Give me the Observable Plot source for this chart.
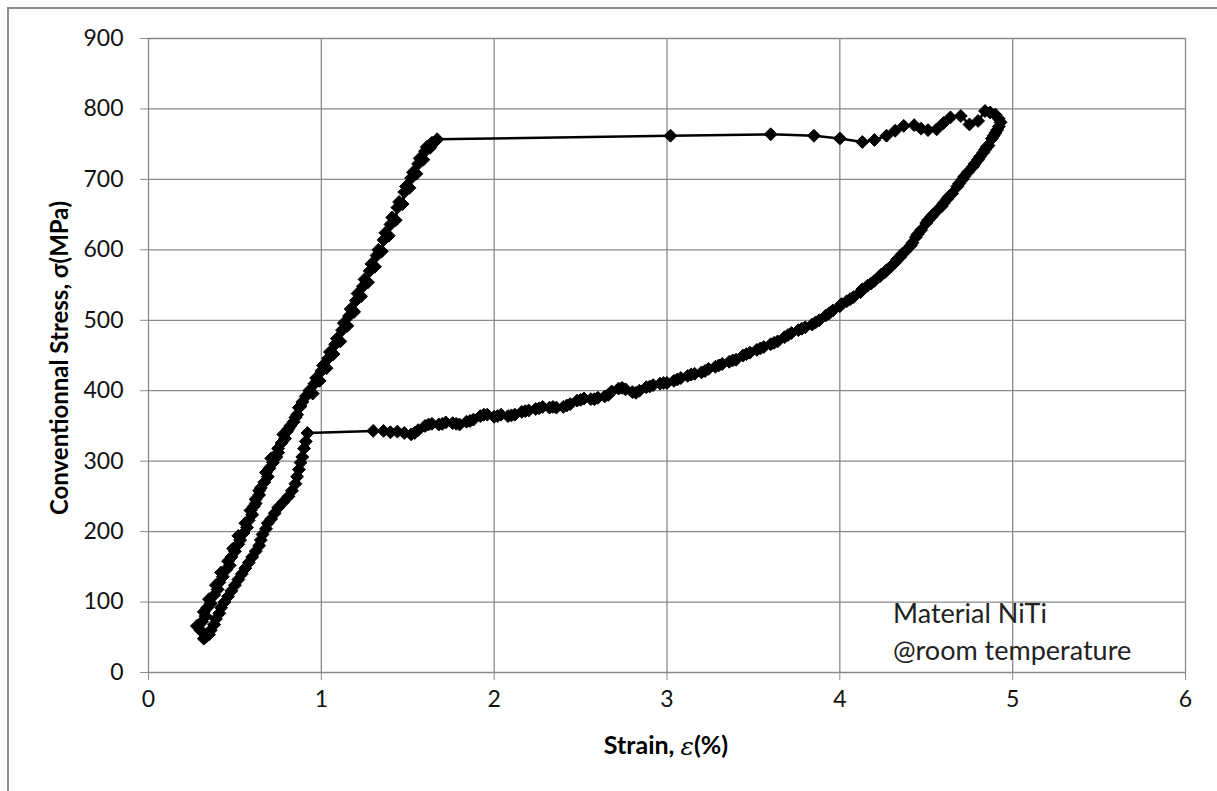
<!DOCTYPE html>
<html><head><meta charset="utf-8">
<script src="https://cdn.jsdelivr.net/npm/d3@7"></script>
<script src="https://cdn.jsdelivr.net/npm/@observablehq/plot@0.6"></script>
<style>
body{margin:0;background:#fff;overflow:hidden;}
#frame{position:absolute;left:7px;top:7px;width:1300px;height:900px;border-left:2px solid #8c8c8c;border-top:2px solid #8c8c8c;}
#chart{position:absolute;left:0;top:0;}
</style></head><body>
<div id="frame"></div>
<div id="chart"></div>
<script>
const xTicks = [0,1,2,3,4,5,6];
const yTicks = [0,100,200,300,400,500,600,700,800,900];
const noteLines = ["Material NiTi","@room temperature"];

// loading branch (elastic)
const loadStrain = [0.28,0.30,0.31,0.33,0.32,0.34,0.36,0.35,0.38,0.40,0.39,0.41,0.43,0.42,0.45,0.47,0.46,0.48,0.50,0.49,0.52,0.53,0.52,0.55,0.57,0.56,0.58,0.60,0.59,0.61,0.62,0.62,0.64,0.65,0.64,0.67,0.69,0.68,0.70,0.72,0.71,0.74,0.75,0.75,0.77,0.79,0.78,0.80,0.82,0.81,0.84,0.86,0.85,0.87,0.89,0.88,0.91,0.93,0.95,0.96,0.97,0.99,1.00,1.01,1.03,1.04,1.05,1.07,1.08,1.09,1.11,1.12,1.13,1.15,1.16,1.17,1.19,1.20,1.21,1.23,1.24,1.25,1.27,1.28,1.29,1.31,1.32,1.33,1.35,1.36,1.37,1.39,1.40,1.41,1.43,1.44,1.45,1.47,1.48,1.49,1.51,1.52,1.53,1.55,1.56,1.57,1.59,1.60,1.61,1.63,1.64,1.66,1.67];
const loadStress = [66,60,72,80,86,92,98,104,110,118,124,128,136,142,146,152,158,164,172,176,182,188,194,198,206,212,216,224,230,236,246,240,252,262,258,270,278,284,290,298,304,306,318,312,326,332,338,342,350,346,356,366,362,376,384,378,392,400,396,410,418,414,428,436,432,446,455,452,466,474,470,486,496,492,506,516,512,528,538,534,548,558,554,570,580,576,592,600,598,614,624,620,636,646,642,660,668,665,682,690,688,702,710,708,722,730,728,740,746,745,752,754,757];

// upper plateau (forward transformation)
const upperStrain = [3.02,3.60,3.85,4.00,4.13,4.20,4.27,4.32,4.37,4.43,4.47,4.51,4.56,4.60,4.64,4.70,4.75,4.80,4.84,4.87,4.90,4.92,4.93];
const upperStress = [762,764,762,758,753,756,762,769,776,777,772,770,771,780,788,790,778,783,797,795,792,786,781];

// unloading (reverse transformation)
const unloadStrain = [4.92,4.91,4.90,4.88,4.89,4.86,4.84,4.85,4.83,4.80,4.81,4.77,4.78,4.74,4.72,4.71,4.68,4.69,4.65,4.63,4.62,4.59,4.60,4.56,4.54,4.53,4.50,4.51,4.47,4.45,4.44,4.41,4.42,4.38,4.36,4.35,4.32,4.33,4.29,4.27,4.26,4.23,4.24,4.20,4.18,4.16,4.12,4.13,4.08,4.06,4.04,4.00,4.01,3.96,3.94,3.92,3.88,3.86,3.84,3.80,3.78,3.76,3.72,3.70,3.68,3.64,3.62,3.60,3.56,3.54,3.52,3.48,3.46,3.44,3.40,3.38,3.36,3.32,3.30,3.28,3.24,3.22,3.20,3.16,3.14,3.12,3.08,3.06,3.04,3.00,2.98,2.96,2.92,2.90,2.88,2.84,2.82,2.80,2.76,2.74,2.72,2.68,2.66,2.64,2.60,2.58,2.56,2.52,2.50,2.48,2.44,2.42,2.40,2.36,2.34,2.32,2.28,2.26,2.24,2.20,2.18,2.16,2.12,2.10,2.08,2.04,2.02,2.00,1.96,1.94,1.92,1.88,1.86,1.84,1.80,1.78,1.76,1.72,1.70,1.68,1.64,1.62,1.60,1.56,1.54,1.52,1.48,1.44,1.40,1.36,1.30];
const unloadStress = [775,770,766,758,762,748,742,746,738,728,732,718,722,710,704,700,690,694,680,675,672,662,666,655,650,647,638,642,628,622,618,606,610,598,594,590,582,586,575,571,568,562,565,556,552,549,540,544,533,530,527,520,523,514,510,507,500,497,494,490,488,486,482,479,476,470,468,466,462,460,458,454,452,450,444,443,441,438,436,434,431,428,426,424,423,421,418,416,414,411,411,410,408,406,405,400,397,398,402,404,403,399,394,392,390,388,388,389,387,386,381,379,377,376,377,376,377,375,374,372,371,370,366,365,364,366,364,363,366,366,364,359,357,356,352,353,354,355,353,352,353,352,350,344,340,338,340,342,341,343,343];

// final elastic unloading
const returnStrain = [0.92,0.91,0.90,0.89,0.88,0.87,0.86,0.85,0.83,0.81,0.78,0.75,0.73,0.71,0.69,0.68,0.66,0.65,0.64,0.62,0.60,0.58,0.56,0.54,0.52,0.50,0.48,0.46,0.44,0.42,0.41,0.39,0.38,0.36,0.35,0.33,0.32];
const returnStress = [340,328,318,306,298,288,278,268,258,250,242,234,226,218,212,204,196,188,180,172,164,156,148,140,132,124,116,108,100,92,84,76,68,60,54,50,48];

const strain = [...loadStrain, ...upperStrain, ...unloadStrain, ...returnStrain];
const stress = [...loadStress, ...upperStress, ...unloadStress, ...returnStress];
const data = strain.map((s, i) => ({strain: s, stress: stress[i]}));

const grid = {stroke: "#8a8a8a", strokeOpacity: 1, strokeWidth: 1.3};
const chart = Plot.plot({
  width: 1217, height: 791,
  marginLeft: 148, marginRight: 32, marginTop: 38, marginBottom: 119,
  style: {fontFamily: "Lato, sans-serif", fontSize: "23px", color: "#000", background: "transparent"},
  x: {domain: [0, 6]},
  y: {domain: [0, 900]},
  marks: [
    Plot.gridX(xTicks, grid),
    Plot.gridY(yTicks, grid),
    Plot.axisY(yTicks, {tickSize: 8, tickPadding: 17, label: null, stroke: "#8a8a8a", fill: "#111", tickFormat: d => d}),
    Plot.axisX(xTicks, {tickSize: 8, tickPadding: 10, label: null, stroke: "#8a8a8a", fill: "#111", tickFormat: d => d}),
    Plot.line(data, {x: "strain", y: "stress", stroke: "black", strokeWidth: 2.5}),
    Plot.dot(data, {x: "strain", y: "stress", symbol: "diamond2", r: 5.8, fill: "black", stroke: "black", strokeWidth: 1})
  ]
});
document.getElementById("chart").appendChild(chart);

const svg = d3.select(chart);
// axis titles
const xt = svg.append("text")
  .attr("x", 666).attr("y", 748)
  .attr("text-anchor", "middle").attr("dominant-baseline", "middle")
  .attr("font-family", "Lato, sans-serif").attr("font-weight", "bold").attr("font-size", 25).attr("fill", "#000");
xt.append("tspan").text("Strain, ");
xt.append("tspan").attr("font-family", "DejaVu Serif, serif").attr("font-style", "italic").attr("font-weight", "normal").text("ε");
xt.append("tspan").text("(%)");

svg.append("text")
  .attr("transform", "translate(62,358) rotate(-90)")
  .attr("text-anchor", "middle").attr("dominant-baseline", "middle")
  .attr("font-family", "Lato, sans-serif").attr("font-weight", "bold").attr("font-size", 24).attr("fill", "#000")
  .text("Conventionnal Stress, σ(MPa)");

// annotation
svg.append("g").attr("text-anchor", "start").selectAll("text").data(noteLines).join("text")
  .attr("x", 893).attr("y", (d, i) => 623 + i * 37)
  .attr("text-anchor", "start")
  .attr("font-family", "Lato, sans-serif").attr("font-size", 27).attr("fill", "#222")
  .text(d => d);
</script>
</body></html>
